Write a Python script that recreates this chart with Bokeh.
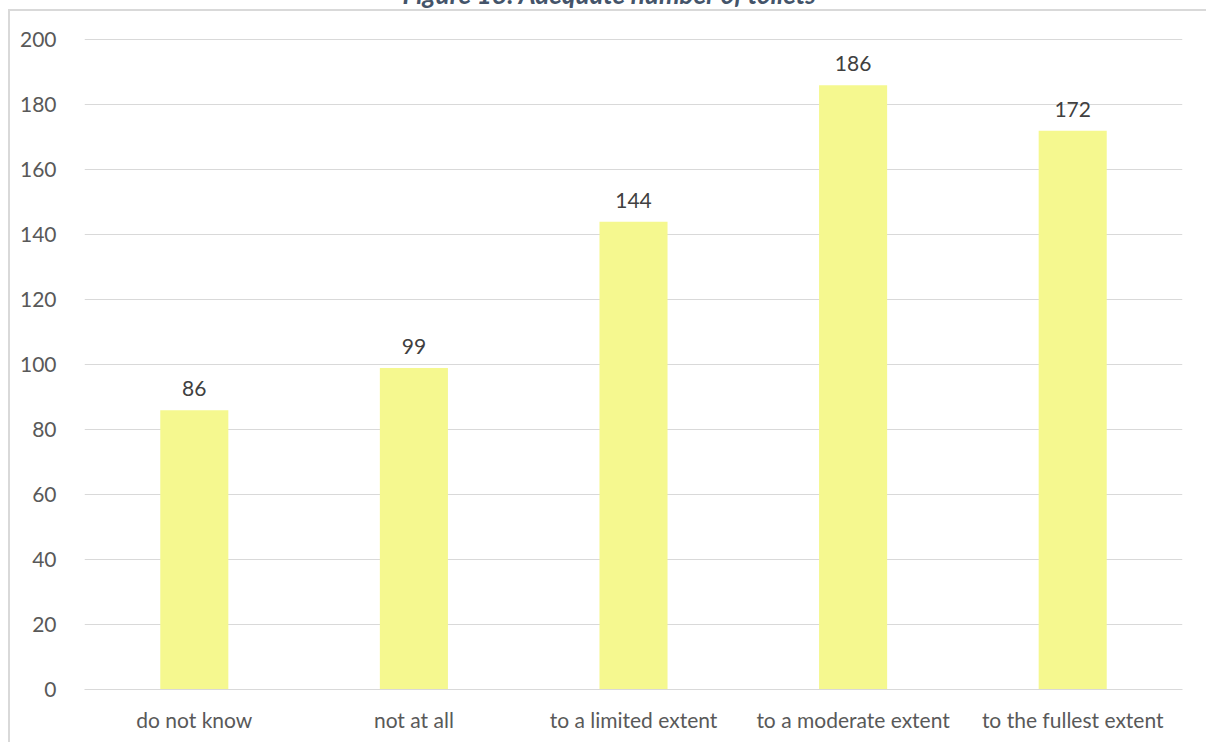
from bokeh.plotting import figure
from bokeh.models import ColumnDataSource, LabelSet, FactorRange, Range1d, FixedTicker
from bokeh.core.properties import value
from bokeh.embed import file_html
from bokeh.resources import INLINE

categories = ["do not know", "not at all", "to a limited extent", "to a moderate extent", "to the fullest extent"]
values = [86, 99, 144, 186, 172]
title_text = "Figure 18: Adequate number of toilets"

FONT = "Lato"
TXT = "#595959"
GRID = "#D9D9D9"
SHIFT = 60

src = ColumnDataSource(dict(cat=categories, val=values, lab=[str(v) for v in values]))

p = figure(width=1206, height=742 + SHIFT, x_range=FactorRange(*categories, range_padding=0),
           y_range=Range1d(0, 200.4), output_backend="svg", toolbar_location=None,
           min_border_left=84, min_border_right=24, min_border_top=38 + SHIFT, min_border_bottom=53,
           title=title_text)
p.outline_line_color = None
p.background_fill_color = "white"
p.border_fill_color = None
p.styles = {
    "margin-top": f"-{SHIFT}px",
    "background": (f"linear-gradient(#D9D9D9,#D9D9D9) 8px {9 + SHIFT}px / 1198px 2px no-repeat, "
                   f"linear-gradient(#D9D9D9,#D9D9D9) 8px {9 + SHIFT}px / 2px 800px no-repeat, white"),
}

p.title.align = "left"
p.title.text_font = FONT
p.title.text_font_style = "bold italic"
p.title.text_font_size = "26px"
p.title.text_color = "#44546A"
p.title.standoff = 57
p.title.offset = 318

p.vbar(x="cat", top="val", width=0.31, source=src, fill_color="#F5F88F", line_color=None)

labels = LabelSet(x="cat", y="val", text="lab", source=src, text_align="center",
                  text_baseline="bottom", y_offset=14, text_font=value(FONT), text_font_size="21px",
                  text_color="#404040")
p.add_layout(labels)

p.yaxis.ticker = FixedTicker(ticks=list(range(0, 201, 20)))
p.yaxis.axis_line_color = None
p.yaxis.major_tick_line_color = None
p.yaxis.minor_tick_line_color = None
p.yaxis.major_label_standoff = 22
p.yaxis.major_label_text_font = FONT
p.yaxis.major_label_text_font_size = "21px"
p.yaxis.major_label_text_color = TXT

p.xaxis.axis_line_color = GRID
p.xaxis.major_tick_line_color = None
p.xaxis.minor_tick_line_color = None
p.xaxis.major_label_standoff = 11
p.xaxis.major_label_text_font = FONT
p.xaxis.major_label_text_font_size = "21px"
p.xaxis.major_label_text_color = TXT

p.xgrid.grid_line_color = None
p.ygrid.grid_line_color = GRID
p.ygrid.ticker = FixedTicker(ticks=list(range(20, 201, 20)))

open("out.html", "w").write(file_html(p, INLINE))
